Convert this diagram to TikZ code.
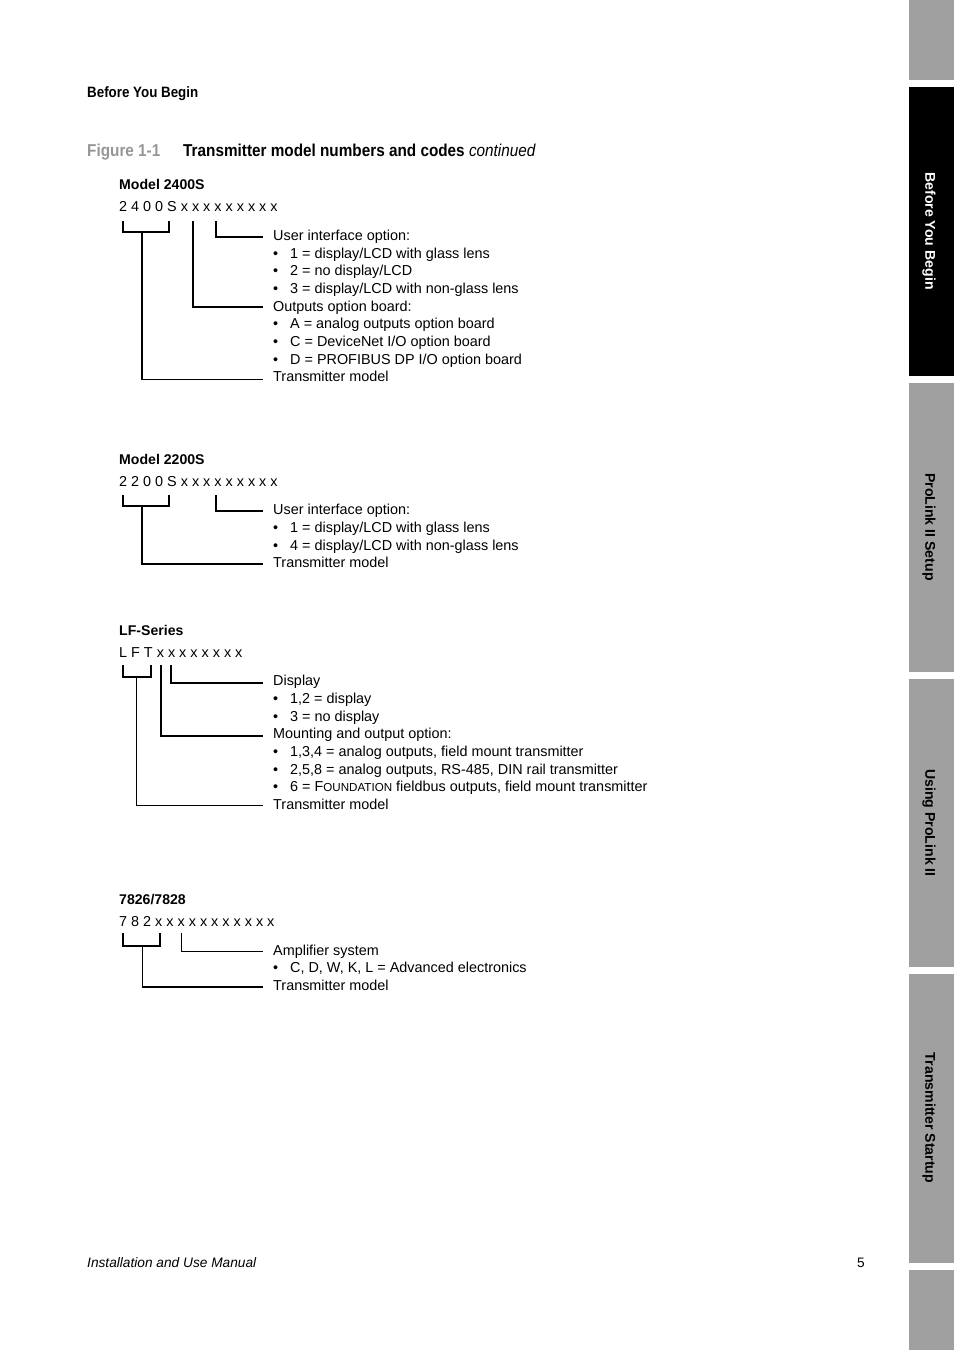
\documentclass[tikz,border=0pt]{standalone}
\usepackage{fontspec}
\setmainfont{Liberation Sans}
\newfontfamily\condfont[FakeStretch=0.89]{Liberation Sans}
\definecolor{tabgray}{RGB}{160,160,160}
\definecolor{figgray}{RGB}{150,150,150}
\newcommand\bodyfnt{\fontsize{14.4}{17}\selectfont}
\newcommand\tabfnt{\fontsize{14.1}{17}\selectfont}
\begin{document}
\begin{tikzpicture}[x=1pt,y=-1pt,
  txt/.style={anchor=base west,inner sep=0pt,font=\bodyfnt},
  lbl/.style={anchor=base west,inner sep=0pt,font=\tabfnt\bfseries},
  tabtxt/.style={rotate=-90,inner sep=0pt,font=\tabfnt\bfseries},
  conn/.style={line width=1.8pt},
  thinconn/.style={line width=1.3pt}]
\useasboundingbox (0,0) rectangle (954,1350);
% side tabs
\fill[tabgray] (909,0) rectangle (954,80);
\fill[black] (909,87) rectangle (954,376);
\fill[tabgray] (909,383) rectangle (954,672);
\fill[tabgray] (909,679) rectangle (954,967);
\fill[tabgray] (909,974) rectangle (954,1263);
\fill[tabgray] (909,1270) rectangle (954,1350);
\node[tabtxt,text=white] (tab1) at (929,231) {Before You Begin};
\node[tabtxt] (tab2) at (929,527) {ProLink II Setup};
\node[tabtxt] (tab3) at (929,823) {Using ProLink II};
\node[tabtxt] (tab4) at (929,1118) {Transmitter Startup};
% header
\node[anchor=base west,inner sep=0pt,font=\condfont\fontsize{15}{18}\selectfont\bfseries] (hdr) at (87,97) {Before You Begin};
\node[anchor=base west,inner sep=0pt,font=\condfont\fontsize{17.2}{20}\selectfont\bfseries,text=figgray] (fig) at (87,156) {Figure 1-1};
\node[anchor=base west,inner sep=0pt,font=\condfont\fontsize{17.2}{20}\selectfont] (cap) at (183,156) {\textbf{Transmitter model numbers and codes} \textit{continued}};
% ---------- Model 2400S ----------
\node[lbl] (m1) at (119,189) {Model 2400S};
\node[txt] (c1) at (119,211) {2 4 0 0 S x x x x x x x x x};
\node[txt] (a1) at (273,240) {User interface option:};
\node[txt] (a1b1) at (273,258) {•}; \node[txt] (a1t1) at (290,258) {1 = display/LCD with glass lens};
\node[txt] (a1b2) at (273,275) {•}; \node[txt] (a1t2) at (290,275) {2 = no display/LCD};
\node[txt] (a1b3) at (273,293) {•}; \node[txt] (a1t3) at (290,293) {3 = display/LCD with non-glass lens};
\node[txt] (a2) at (273,311) {Outputs option board:};
\node[txt] (a2b1) at (273,328) {•}; \node[txt] (a2t1) at (290,328) {A = analog outputs option board};
\node[txt] (a2b2) at (273,346) {•}; \node[txt] (a2t2) at (290,346) {C = DeviceNet I/O option board};
\node[txt] (a2b3) at (273,364) {•}; \node[txt] (a2t3) at (290,364) {D = PROFIBUS DP I/O option board};
\node[txt] (a3) at (273,381) {Transmitter model};
\coordinate (p1lt) at (122.7,221); \coordinate (p1lb) at (122.7,231.7);
\coordinate (p1rb) at (169.3,231.7); \coordinate (p1rt) at (169.3,221);
\coordinate (p1s) at (141.7,231.7); \coordinate (p1se) at (263,379.5);
\coordinate (p1o) at (192.7,221); \coordinate (p1oe) at (263,307);
\coordinate (p1u) at (216,221); \coordinate (p1ue) at (263,237);
\draw[conn] (p1lt) -- (p1lb) -- (p1rb) -- (p1rt);
\draw[conn] (p1s) |- (p1se);
\draw[conn] (p1o) |- (p1oe);
\draw[conn] (p1u) |- (p1ue);
% ---------- Model 2200S ----------
\node[lbl] (m2) at (119,464) {Model 2200S};
\node[txt] (c2) at (119,486) {2 2 0 0 S x x x x x x x x x};
\node[txt] (b1) at (273,514) {User interface option:};
\node[txt] (b1b1) at (273,532) {•}; \node[txt] (b1t1) at (290,532) {1 = display/LCD with glass lens};
\node[txt] (b1b2) at (273,550) {•}; \node[txt] (b1t2) at (290,550) {4 = display/LCD with non-glass lens};
\node[txt] (b2) at (273,567) {Transmitter model};
\coordinate (p2lt) at (122.7,495); \coordinate (p2lb) at (122.7,505.7);
\coordinate (p2rb) at (169.3,505.7); \coordinate (p2rt) at (169.3,495);
\coordinate (p2s) at (141.7,505.7); \coordinate (p2se) at (263,564);
\coordinate (p2u) at (216,495); \coordinate (p2ue) at (263,511);
\draw[conn] (p2lt) -- (p2lb) -- (p2rb) -- (p2rt);
\draw[conn] (p2s) |- (p2se);
\draw[conn] (p2u) |- (p2ue);
% ---------- LF-Series ----------
\node[lbl] (m3) at (119,635) {LF-Series};
\node[txt] (c3) at (119,657) {L F T x x x x x x x x};
\node[txt] (d1) at (273,685) {Display};
\node[txt] (d1b1) at (273,703) {•}; \node[txt] (d1t1) at (290,703) {1,2 = display};
\node[txt] (d1b2) at (273,721) {•}; \node[txt] (d1t2) at (290,721) {3 = no display};
\node[txt] (d2) at (273,738) {Mounting and output option:};
\node[txt] (d2b1) at (273,756) {•}; \node[txt] (d2t1) at (290,756) {1,3,4 = analog outputs, field mount transmitter};
\node[txt] (d2b2) at (273,774) {•}; \node[txt] (d2t2) at (290,774) {2,5,8 = analog outputs, RS-485, DIN rail transmitter};
\node[txt] (d2b3) at (273,791) {•}; \node[txt] (d2t3) at (290,791) {6 = F{\fontsize{11.6}{12}\selectfont OUNDATION} fieldbus outputs, field mount transmitter};
\node[txt] (d3) at (273,809) {Transmitter model};
\coordinate (p3lt) at (122.7,665); \coordinate (p3lb) at (122.7,676.7);
\coordinate (p3rb) at (150.7,676.7); \coordinate (p3rt) at (150.7,665);
\coordinate (p3s) at (136.7,676.7); \coordinate (p3se) at (263,805.7);
\coordinate (p3m) at (160.7,665); \coordinate (p3me) at (263,736);
\coordinate (p3d) at (171,665); \coordinate (p3de) at (263,682.7);
\draw[conn] (p3lt) -- (p3lb) -- (p3rb) -- (p3rt);
\draw[thinconn] (p3s) |- (p3se);
\draw[conn] (p3m) |- (p3me);
\draw[conn] (p3d) |- (p3de);
% ---------- 7826/7828 ----------
\node[lbl] (m4) at (119,904) {7826/7828};
\node[txt] (c4) at (119,926) {7 8 2 x x x x x x x x x x x};
\node[txt] (e1) at (273,955) {Amplifier system};
\node[txt] (e1b1) at (273,972) {•}; \node[txt] (e1t1) at (290,972) {C, D, W, K, L = Advanced electronics};
\node[txt] (e2) at (273,990) {Transmitter model};
\coordinate (p4lt) at (122.7,933); \coordinate (p4lb) at (122.7,945.7);
\coordinate (p4rb) at (160,945.7); \coordinate (p4rt) at (160,933);
\coordinate (p4s) at (142.3,945.7); \coordinate (p4se) at (263,987);
\coordinate (p4a) at (181.7,933); \coordinate (p4ae) at (263,951.7);
\draw[conn] (p4lt) -- (p4lb) -- (p4rb) -- (p4rt);
\draw[thinconn] (p4s) |- (p4se);
\draw[thinconn] (p4a) |- (p4ae);
% footer
\node[anchor=base west,inner sep=0pt,font=\fontsize{13.7}{16}\selectfont\itshape] (foot) at (87,1267) {Installation and Use Manual};
\node[anchor=base west,inner sep=0pt,font=\fontsize{13.7}{16}\selectfont] (pg) at (857,1267) {5};
\end{tikzpicture}
\end{document}
